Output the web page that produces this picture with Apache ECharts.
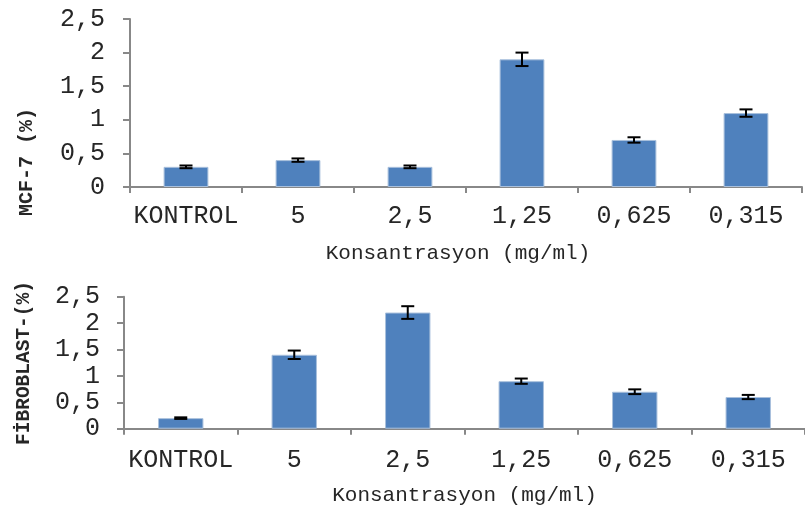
<!DOCTYPE html>
<html>
<head>
<meta charset="utf-8">
<script src="https://cdn.jsdelivr.net/npm/echarts@6/dist/echarts.min.js"></script>
<style>
html,body{margin:0;padding:0;background:#fff;}
#chart{width:805px;height:511px;}
</style>
</head>
<body>
<div id="chart"></div>
<script>
// ---- data ----
const categories = ['KONTROL', '5', '2,5', '1,25', '0,625', '0,315'];
const yTickLabels = ['0', '0,5', '1', '1,5', '2', '2,5'];
const mcf7Values = [0.30, 0.40, 0.30, 1.90, 0.70, 1.10];
const mcf7Errors = [0.02, 0.025, 0.02, 0.10, 0.04, 0.055];
const fibroValues = [0.20, 1.40, 2.20, 0.90, 0.70, 0.60];
const fibroErrors = [0.015, 0.08, 0.12, 0.05, 0.045, 0.04];
const xTitle = 'Konsantrasyon (mg/ml)';
const yTitleTop = 'MCF-7 (%)';
const yTitleBottom = 'FİBROBLAST-(%)';

const FONT = "'Courier New', 'Liberation Mono', monospace";
const AXIS_COLOR = '#888888';
const TEXT_COLOR = '#262626';
const BAR_COLOR = '#4F81BD';

function errData(vals, errs) {
  return vals.map((v, i) => [i, v - errs[i], v + errs[i]]);
}

function errRender(params, api) {
  const i = api.value(0);
  const lo = api.coord([i, api.value(1)]);
  const hi = api.coord([i, api.value(2)]);
  const half = 6.5;
  const st = { stroke: '#000', lineWidth: 2 };
  return {
    type: 'group',
    children: [
      { type: 'line', shape: { x1: lo[0], y1: lo[1], x2: hi[0], y2: hi[1] }, style: st },
      { type: 'line', shape: { x1: hi[0] - half, y1: hi[1], x2: hi[0] + half, y2: hi[1] }, style: st },
      { type: 'line', shape: { x1: lo[0] - half, y1: lo[1], x2: lo[0] + half, y2: lo[1] }, style: st }
    ]
  };
}

function xAxisCfg(gridIndex, labelMargin, namePad) {
  return {
    type: 'category', gridIndex: gridIndex, data: categories, boundaryGap: true,
    axisLine: { show: true, lineStyle: { color: AXIS_COLOR, width: 2 } },
    axisTick: { show: true, alignWithLabel: false, length: 6, lineStyle: { color: AXIS_COLOR, width: 2 } },
    axisLabel: { show: true, interval: 0, margin: labelMargin, color: TEXT_COLOR, fontFamily: FONT, fontSize: 25, lineHeight: 25 },
    splitLine: { show: false },
    name: xTitle, nameLocation: 'middle', nameGap: 56,
    nameTextStyle: { color: TEXT_COLOR, fontFamily: FONT, fontSize: 21, lineHeight: 21, padding: namePad }
  };
}

function yAxisCfg(gridIndex, labelMargin) {
  return {
    type: 'value', gridIndex: gridIndex, min: 0, max: 2.5, interval: 0.5,
    axisLine: { show: true, lineStyle: { color: AXIS_COLOR, width: 2 } },
    axisTick: { show: true, inside: false, length: 7, lineStyle: { color: AXIS_COLOR, width: 2 } },
    axisLabel: { show: true, margin: labelMargin, color: TEXT_COLOR, fontFamily: FONT, fontSize: 25,
      formatter: function (v, idx) { return yTickLabels[idx]; } },
    splitLine: { show: false }
  };
}

function yTitle(text, x, y, size) {
  return {
    type: 'text', x: x, y: y, rotation: Math.PI / 2,
    style: { text: text, fontFamily: FONT, fontWeight: 'bold', fontSize: size, fill: TEXT_COLOR,
      align: 'center', verticalAlign: 'middle' }
  };
}

const chart = echarts.init(document.getElementById('chart'), null, { renderer: 'canvas' });
chart.setOption({
  animation: false,
  backgroundColor: '#ffffff',
  grid: [
    { left: 130, top: 19, width: 672, height: 168 },
    { left: 124, top: 296.7, width: 688, height: 132 }
  ],
  xAxis: [xAxisCfg(0, 17, [0, 16, 0, 0]), xAxisCfg(1, 19, [0, 0, 0, 0])],
  yAxis: [yAxisCfg(0, 25), yAxisCfg(1, 24)],
  graphic: [yTitle(yTitleTop, 27, 162, 20), yTitle(yTitleBottom, 24, 363, 19.5)],
  series: [
    { type: 'bar', xAxisIndex: 0, yAxisIndex: 0, data: mcf7Values, barWidth: '40%',
      itemStyle: { color: BAR_COLOR, borderColor: '#a9c0dc', borderWidth: 1 } },
    { type: 'custom', xAxisIndex: 0, yAxisIndex: 0, data: errData(mcf7Values, mcf7Errors),
      renderItem: errRender, z: 5 },
    { type: 'bar', xAxisIndex: 1, yAxisIndex: 1, data: fibroValues, barWidth: '40%',
      itemStyle: { color: BAR_COLOR, borderColor: '#a9c0dc', borderWidth: 1 } },
    { type: 'custom', xAxisIndex: 1, yAxisIndex: 1, data: errData(fibroValues, fibroErrors),
      renderItem: errRender, z: 5 }
  ]
});
</script>
</body>
</html>
